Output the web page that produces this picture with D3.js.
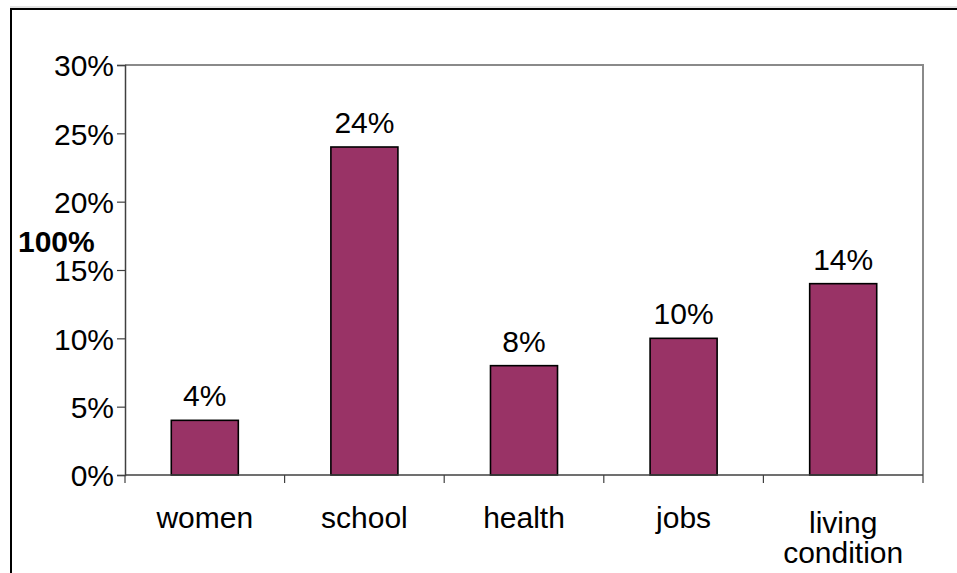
<!DOCTYPE html>
<html>
<head>
<meta charset="utf-8">
<script src="https://cdn.jsdelivr.net/npm/d3@7/dist/d3.min.js"></script>
<style>
  html, body { margin: 0; padding: 0; background: #fff; }
  svg { display: block; }
  text { font-family: "Liberation Sans", Arial, sans-serif; }
</style>
</head>
<body>
<svg id="chart" width="957" height="573"></svg>
<script>
const categories = ["women", "school", "health", "jobs", "living condition"];
const values = [4, 24, 8, 10, 14];
const yTicks = [0, 5, 10, 15, 20, 25, 30];
const yAxisTitle = "100%";

const W = 957, H = 573;
const svg = d3.select("#chart");
const plot = { left: 125, right: 923, top: 65, bottom: 475 };
const fontSize = 30;

// outer frame
svg.append("line").attr("x1", 10).attr("x2", W).attr("y1", 7).attr("y2", 7)
  .attr("stroke", "#c8c8c8").attr("stroke-width", 1);
svg.append("path").attr("d", `M11,${H} L11,9 L${W},9`)
  .attr("fill", "none").attr("stroke", "#000").attr("stroke-width", 2);

const x = d3.scaleBand().domain(categories).range([plot.left, plot.right]).paddingInner(0).paddingOuter(0);
const y = d3.scaleLinear().domain([0, 30]).range([plot.bottom, plot.top]);
const barW = x.step() * 0.42;

// plot area top/right border
svg.append("path")
  .attr("d", `M${plot.left},${plot.top} L${plot.right},${plot.top} L${plot.right},${plot.bottom}`)
  .attr("fill", "none").attr("stroke", "#8a8a8a").attr("stroke-width", 2);

// bars
svg.append("g").selectAll("rect").data(values).join("rect")
  .attr("x", (d, i) => x(categories[i]) + (x.step() - barW) / 2)
  .attr("y", d => y(d))
  .attr("width", barW)
  .attr("height", d => y(0) - y(d))
  .attr("fill", "#993366")
  .attr("stroke", "#000")
  .attr("stroke-width", 1.6);

// value labels
svg.append("g").selectAll("text").data(values).join("text")
  .attr("x", (d, i) => x(categories[i]) + x.step() / 2)
  .attr("y", d => y(d) - 14)
  .attr("text-anchor", "middle")
  .attr("font-size", fontSize)
  .attr("fill", "#000")
  .text(d => d + "%");

// y axis
const yAxis = svg.append("g").attr("transform", `translate(${plot.left},0)`)
  .call(d3.axisLeft(y).tickValues(yTicks).tickSize(8).tickPadding(3).tickFormat(d => d + "%"));
yAxis.select(".domain").attr("stroke", "#404040").attr("stroke-width", 1.5);
yAxis.selectAll(".tick line").attr("stroke", "#404040").attr("stroke-width", 1.2);
yAxis.selectAll(".tick text").attr("font-size", fontSize).attr("fill", "#000")
  .attr("font-family", "'Liberation Sans', Arial, sans-serif").attr("dy", "0.36em");

// x axis
const xAxis = svg.append("g").attr("transform", `translate(0,${plot.bottom})`);
xAxis.append("line").attr("x1", plot.left).attr("x2", plot.right).attr("y1", 0).attr("y2", 0)
  .attr("stroke", "#404040").attr("stroke-width", 1.5);
const boundaries = categories.map(c => x(c)).concat([x(categories[categories.length - 1]) + x.step()]);
xAxis.selectAll("line.tk").data(boundaries).join("line").attr("class", "tk")
  .attr("x1", d => d).attr("x2", d => d).attr("y1", 0).attr("y2", 8)
  .attr("stroke", "#404040").attr("stroke-width", 1.2);

const labels = svg.append("g").selectAll("text").data(categories).join("text")
  .attr("x", d => x(d) + x.step() / 2)
  .attr("y", d => d.includes(" ") ? 533 : 528)
  .attr("text-anchor", "middle")
  .attr("font-size", fontSize)
  .attr("fill", "#000");
labels.each(function(d) {
  const parts = d.split(" ");
  const t = d3.select(this);
  parts.forEach((p, i) => {
    t.append("tspan").attr("x", x(d) + x.step() / 2).attr("dy", i === 0 ? 0 : 30).text(p);
  });
});

// y axis title
svg.append("text").attr("x", 18).attr("y", 252)
  .attr("font-size", fontSize).attr("font-weight", "bold").attr("fill", "#000")
  .text(yAxisTitle);
</script>
</body>
</html>
